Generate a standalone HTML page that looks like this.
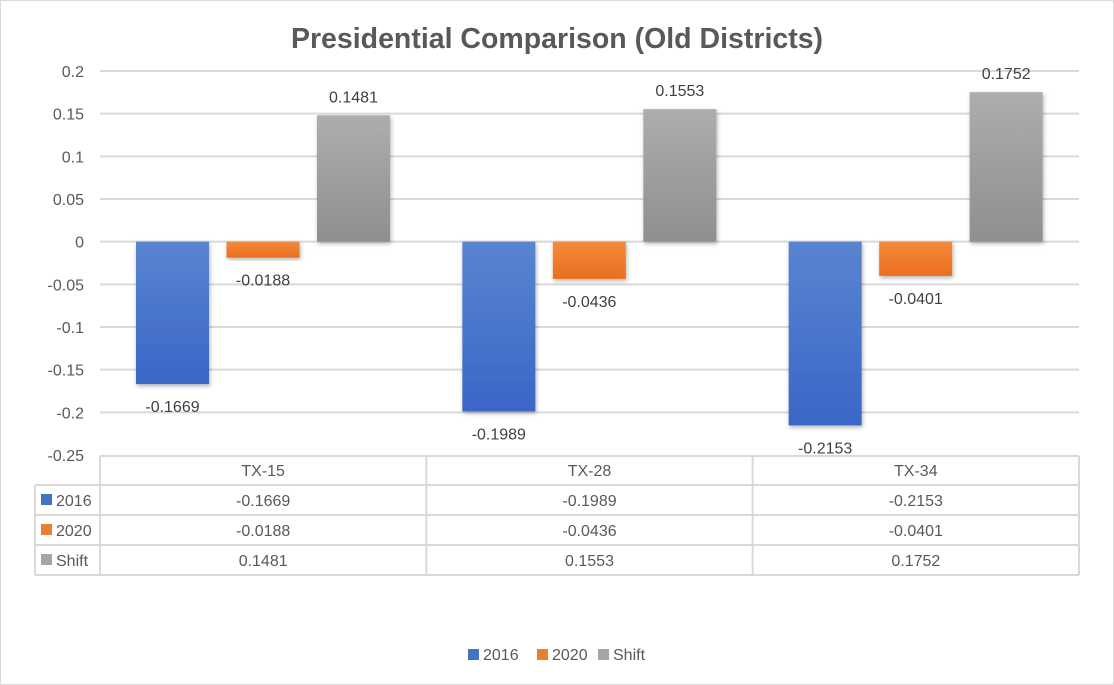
<!DOCTYPE html>
<html><head><meta charset="utf-8"><style>
body{margin:0;background:#fff}
svg{display:block;font-family:"Liberation Sans",sans-serif}
</style></head><body>
<svg id="c" width="1114" height="685">
<defs>
<linearGradient id="gB" x1="0" y1="0" x2="0" y2="1"><stop offset="0" stop-color="#5a84d0"/><stop offset="1" stop-color="#3a66c8"/></linearGradient>
<linearGradient id="gO" x1="0" y1="0" x2="0" y2="1"><stop offset="0" stop-color="#f48a3c"/><stop offset="1" stop-color="#ea6f1e"/></linearGradient>
<linearGradient id="gG" x1="0" y1="0" x2="0" y2="1"><stop offset="0" stop-color="#adadad"/><stop offset="1" stop-color="#8f8f8f"/></linearGradient>
<filter id="sh" x="-20%" y="-20%" width="140%" height="140%"><feDropShadow dx="1" dy="2" stdDeviation="2" flood-color="#000" flood-opacity="0.3"/></filter>
</defs>
<rect x="0.5" y="0.5" width="1113" height="684" fill="#fff" stroke="#d9d9d9"/>
<text x="557" y="48" text-anchor="middle" font-size="28.5" font-weight="bold" fill="#595959">Presidential Comparison (Old Districts)</text>
<g id="grid"></g><g id="bars"></g><g id="tbl"></g><g id="leg"></g>
</svg>
<script>
const categories=["TX-15","TX-28","TX-34"];
const series=["2016","2020","Shift"];
const v2016=[-0.1669,-0.1989,-0.2153];
const v2020=[-0.0188,-0.0436,-0.0401];
const vShift=[0.1481,0.1553,0.1752];
const yTicks=[0.2,0.15,0.1,0.05,0,-0.05,-0.1,-0.15,-0.2,-0.25];
const vals=[v2016,v2020,vShift];
const fills=["url(#gB)","url(#gO)","url(#gG)"];
const sw=["#4472c4","#ed7d31","#a5a5a5"];
const NS="http://www.w3.org/2000/svg";
const X0=100,X1=1079,Y0=71,Y1=455,ymax=0.2,ymin=-0.25;
const y=v=>Y0+(ymax-v)/(ymax-ymin)*(Y1-Y0);
const cw=(X1-X0)/categories.length;
const bx=(ci,si)=>X0+ci*cw+36+si*90.5;
function mk(t,a,p,txt){const e=document.createElementNS(NS,t);for(const k in a)e.setAttribute(k,a[k]);if(txt!==undefined)e.textContent=txt;p.appendChild(e);return e;}
const G=document.getElementById('grid'),B=document.getElementById('bars'),T=document.getElementById('tbl'),L=document.getElementById('leg');
yTicks.forEach(t=>{
 if(t>ymin){const l=mk('line',{x1:X0,x2:X1,y1:y(t),y2:y(t),stroke:'#d9d9d9','stroke-width':2},G);
 
 }
 const tx=mk('text',{x:84,y:y(t)+6,'text-anchor':'end','font-size':16,fill:'#595959'},G,String(t));
 
 
});
vals.forEach((arr,si)=>arr.forEach((v,ci)=>{
 const x=bx(ci,si),top=Math.min(y(v),y(0)),h=Math.abs(y(v)-y(0));
 const r=mk('rect',{x:x,y:top,width:73,height:h,fill:fills[si],filter:'url(#sh)'},B);
 
 
 const ly=v<0?y(v)+28:y(v)-13;
 const tx=mk('text',{x:x+36.5,y:ly,'text-anchor':'middle','font-size':16,fill:'#404040'},B,String(v));
 
 
}));
const rows=[456,485,515,545,575];
const st={stroke:'#d9d9d9','stroke-width':2};
mk('line',Object.assign({x1:X0,x2:X1,y1:456,y2:456},st),T);
[485,515,545,575].forEach(r=>mk('line',Object.assign({x1:35,x2:X1,y1:r,y2:r},st),T));
mk('line',Object.assign({x1:35,x2:35,y1:485,y2:575},st),T);
for(let i=0;i<=3;i++)mk('line',Object.assign({x1:X0+i*cw,x2:X0+i*cw,y1:456,y2:575},st),T);
categories.forEach((c,ci)=>{
 const t=mk('text',{x:X0+ci*cw+cw/2,y:476,'text-anchor':'middle','font-size':16,fill:'#595959'},T,c);
 
 
});
series.forEach((s,si)=>{
 const ry=rows[si+1];
 mk('rect',{x:41,y:ry+9,width:11,height:11,fill:sw[si]},T);
 const t=mk('text',{x:56,y:ry+21,'font-size':16,fill:'#595959'},T,s);
 
 
 vals[si].forEach((v,ci)=>{
  const c=mk('text',{x:X0+ci*cw+cw/2,y:ry+21,'text-anchor':'middle','font-size':16,fill:'#595959'},T,String(v));
  
  
 });
});
const lx=[468,537,598];
series.forEach((s,si)=>{
 const g=mk('g',{},L);
 
 
 mk('rect',{x:lx[si],y:649,width:11,height:11,fill:sw[si]},g);
 mk('text',{x:lx[si]+15,y:660,'font-size':16,fill:'#595959'},g,s);
});
</script>
</body></html>
